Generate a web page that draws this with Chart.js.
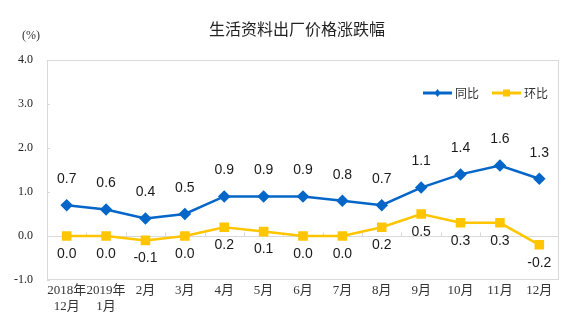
<!DOCTYPE html>
<html>
<head>
<meta charset="utf-8">
<script src="https://cdn.jsdelivr.net/npm/chart.js@4/dist/chart.umd.min.js"></script>
<style>
html,body{margin:0;padding:0;background:#fff;}
#wrap{position:relative;width:576px;height:322px;}
</style>
</head>
<body>
<div id="wrap"><canvas id="c" width="576" height="322"></canvas></div>
<script>
const categories = [["2018年","12月"],["2019年","1月"],"2月","3月","4月","5月","6月","7月","8月","9月","10月","11月","12月"];
const yoy = [0.7, 0.6, 0.4, 0.5, 0.9, 0.9, 0.9, 0.8, 0.7, 1.1, 1.4, 1.6, 1.3];
const mom = [0.0, 0.0, -0.1, 0.0, 0.2, 0.1, 0.0, 0.0, 0.2, 0.5, 0.3, 0.3, -0.2];
const yTicks = [-1, 0, 1, 2, 3, 4];
const titleText = "生活资料出厂价格涨跌幅";
const unitText = "(%)";
const seriesNames = ["同比", "环比"];

const BLUE = "#0466c8";
const YELLOW = "#ffc600";
const BOX = "#d9d9d9";

const decor = {
  id: "decor",
  beforeDatasetsDraw(chart) {
    const ctx = chart.ctx, a = chart.chartArea, y = chart.scales.y, x = chart.scales.x;
    ctx.save();
    ctx.strokeStyle = BOX; ctx.lineWidth = 1;
    ctx.strokeRect(a.left + 0.5, a.top + 0.5, a.right - a.left - 1, a.bottom - a.top - 1);
    const y0 = Math.round(y.getPixelForValue(0)) + 0.5;
    ctx.beginPath();
    ctx.moveTo(a.left, y0); ctx.lineTo(a.right, y0);
    const n = categories.length;
    for (let k = 1; k < n; k++) {
      const xp = Math.round((x.getPixelForValue(k - 1) + x.getPixelForValue(k)) / 2) + 0.5;
      ctx.moveTo(xp, y0); ctx.lineTo(xp, y0 - 4);
    }
    yTicks.forEach(v => {
      const yp = Math.round(y.getPixelForValue(v)) + 0.5;
      ctx.moveTo(a.left, yp); ctx.lineTo(a.left + 3, yp);
    });
    ctx.stroke();
    ctx.restore();
  },
  afterDraw(chart) {
    const ctx = chart.ctx;
    ctx.save();
    ctx.fillStyle = "#222";
    ctx.font = "16px 'Noto Sans CJK SC'";
    ctx.textAlign = "center"; ctx.textBaseline = "middle";
    ctx.fillText(titleText, 297, 29);
    ctx.font = "12px 'Liberation Serif'";
    ctx.fillStyle = "#333";
    ctx.fillText(unitText, 31, 36);
    ctx.font = "14px 'Liberation Sans'";
    ctx.fillStyle = "#1a1a1a";
    const m0 = chart.getDatasetMeta(0), m1 = chart.getDatasetMeta(1);
    m0.data.forEach((p, i) => ctx.fillText(yoy[i].toFixed(1), p.x, p.y - 26));
    m1.data.forEach((p, i) => ctx.fillText(mom[i].toFixed(1), p.x, p.y + 18));
    const items = [[seriesNames[0], BLUE, "rectRot", 423], [seriesNames[1], YELLOW, "rect", 492]];
    const ly = 93;
    items.forEach(([name, col, shape, lx]) => {
      ctx.strokeStyle = col; ctx.lineWidth = 3;
      ctx.beginPath(); ctx.moveTo(lx, ly); ctx.lineTo(lx + 29, ly); ctx.stroke();
      ctx.fillStyle = col;
      const cx = lx + 14.5;
      if (shape === "rect") { ctx.fillRect(cx - 3.5, ly - 3.5, 7, 7); }
      else { ctx.beginPath(); ctx.moveTo(cx, ly - 4); ctx.lineTo(cx + 3, ly); ctx.lineTo(cx, ly + 4); ctx.lineTo(cx - 3, ly); ctx.closePath(); ctx.fill(); }
      ctx.fillStyle = "#333";
      ctx.font = "12px 'Noto Sans CJK SC'";
      ctx.textAlign = "left";
      ctx.fillText(name, lx + 32, ly);
    });
    ctx.restore();
  }
};

new Chart(document.getElementById("c"), {
  type: "line",
  data: {
    labels: categories,
    datasets: [
      { label: seriesNames[0], data: yoy, borderColor: BLUE, backgroundColor: BLUE, borderWidth: 2.5,
        pointStyle: "rectRot", pointRadius: 4.5, pointHoverRadius: 4.5, tension: 0 },
      { label: seriesNames[1], data: mom, borderColor: YELLOW, backgroundColor: YELLOW, borderWidth: 2.5,
        pointStyle: "rect", pointRadius: 5, pointHoverRadius: 5, tension: 0 }
    ]
  },
  options: {
    responsive: false, animation: false,
    layout: { padding: { top: 60, right: 17, left: 0, bottom: 0 } },
    plugins: { legend: { display: false }, tooltip: { enabled: false }, title: { display: false } },
    scales: {
      x: {
        offset: true,
        grid: { display: false, drawTicks: false },
        border: { display: false },
        ticks: { color: "#333", font: { family: "'Liberation Serif','Noto Sans CJK SC'", size: 13 }, padding: 3, maxRotation: 0, autoSkip: false },
        afterFit(s) { s.height = 42; }
      },
      y: {
        min: -1, max: 4,
        afterBuildTicks(s) { s.ticks = yTicks.map(v => ({ value: v })); },
        grid: { display: false, drawTicks: false },
        border: { display: false },
        ticks: { color: "#222", font: { family: "'Liberation Serif'", size: 12 }, padding: 14,
          callback: v => v.toFixed(1) },
        afterFit(s) { s.width = 47; }
      }
    }
  },
  plugins: [decor]
});
</script>
</body>
</html>
